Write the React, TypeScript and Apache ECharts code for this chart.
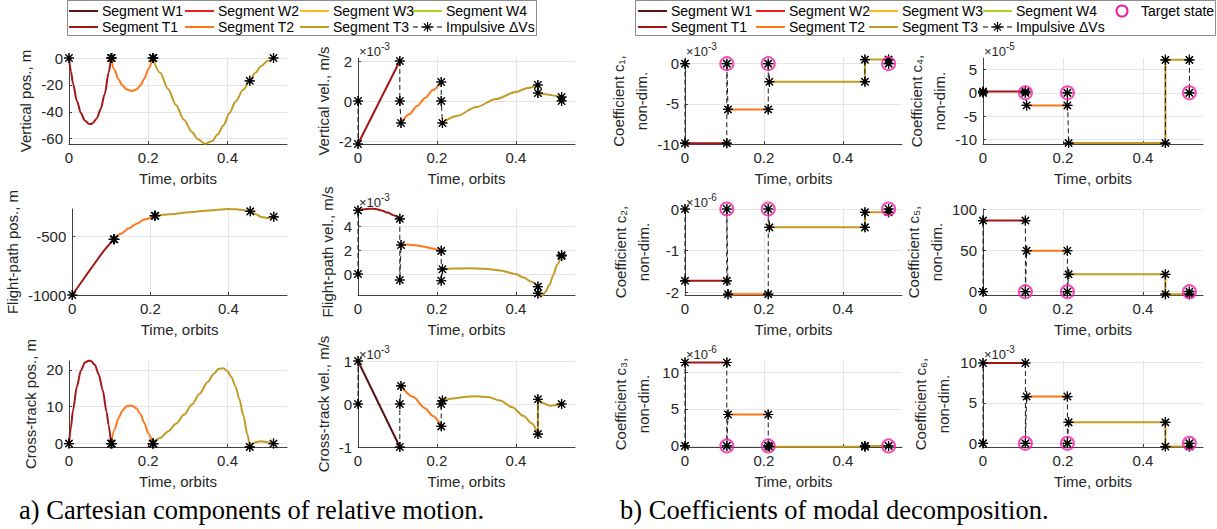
import React, { useEffect, useRef } from "react";
import * as echarts from "echarts";

// ---------------- data ----------------
const X_TICKS = [0, 0.2, 0.4];
const X_MAX = 0.55;

// Vertical position, m
const vertPosT1 = [[0, 0], [0.005, -10], [0.01, -19], [0.02, -32], [0.03, -41], [0.04, -46.5], [0.05, -49], [0.055, -49.2], [0.06, -48.5], [0.07, -45], [0.08, -38], [0.09, -27], [0.1, -11], [0.106, 0]];
const vertPosT2 = [[0.106, 0], [0.115, -9], [0.125, -16], [0.135, -20.5], [0.145, -23.2], [0.158, -24.5], [0.17, -23.5], [0.18, -20.5], [0.19, -15.5], [0.2, -8.5], [0.211, 0]];
const vertPosT3 = [[0.211, 0], [0.23, -11], [0.25, -23], [0.27, -35], [0.29, -46], [0.31, -55], [0.325, -60.5], [0.343, -63.8], [0.36, -62], [0.375, -57], [0.39, -50], [0.405, -41], [0.42, -32.5], [0.44, -23.5], [0.456, -17], [0.47, -11], [0.485, -6], [0.5, -2.3], [0.516, 0]];
const vertPosImp = [[[0, 0]], [[0.106, 0], [0.108, 0]], [[0.211, 0], [0.213, 0]], [[0.456, -17]], [[0.516, 0]]];

// Vertical velocity, 1e-3 m/s
const vertVelT1 = [[0, -2.15], [0.106, 2.0]];
const vertVelT2 = [[0.109, -1.1], [0.13, -0.66], [0.15, -0.25], [0.17, 0.15], [0.19, 0.55], [0.211, 0.95]];
const vertVelT3a = [[0.214, -1.1], [0.25, -0.75], [0.3, -0.3], [0.35, 0.1], [0.4, 0.45], [0.43, 0.65], [0.456, 0.8]];
const vertVelT3b = [[0.456, 0.4], [0.48, 0.33], [0.5, 0.26], [0.516, 0.2]];
const vertVelImp = [[[0, 0], [0, -2.15]], [[0.106, 2.0], [0.106, 0], [0.109, -1.1]], [[0.211, 0.95], [0.211, 0], [0.214, -1.1]], [[0.456, 0.8], [0.456, 0.4]], [[0.516, 0.2], [0.516, 0]]];

// Flight-path position, m
const flightPosT1 = [[0, -1000], [0.02, -907], [0.04, -813], [0.06, -720], [0.08, -628], [0.106, -528]];
const flightPosT2 = [[0.106, -528], [0.125, -480], [0.145, -435], [0.165, -395], [0.185, -360], [0.211, -328]];
const flightPosT3 = [[0.211, -328], [0.25, -315], [0.3, -298], [0.35, -283], [0.4, -272], [0.42, -274], [0.44, -281], [0.456, -291], [0.47, -315], [0.485, -338], [0.5, -347], [0.508, -344], [0.516, -337]];
const flightPosImp = [[[0, -1000]], [[0.106, -528], [0.108, -528]], [[0.211, -328], [0.213, -328]], [[0.456, -291]], [[0.516, -337]]];

// Flight-path velocity, 1e-3 m/s
const flightVelT1 = [[0, 5.3], [0.015, 5.4], [0.03, 5.45], [0.045, 5.42], [0.06, 5.3], [0.075, 5.12], [0.09, 4.9], [0.106, 4.6]];
const flightVelT2 = [[0.109, 2.42], [0.125, 2.45], [0.145, 2.4], [0.165, 2.3], [0.185, 2.15], [0.211, 1.93]];
const flightVelT3a = [[0.214, 0.4], [0.24, 0.45], [0.28, 0.48], [0.32, 0.44], [0.36, 0.3], [0.4, 0.0], [0.42, -0.3], [0.44, -0.65], [0.456, -1.05]];
const flightVelT3b = [[0.456, -1.62], [0.462, -1.72], [0.468, -1.74], [0.475, -1.5], [0.485, -0.9], [0.495, -0.1], [0.505, 0.8], [0.516, 1.57]];
const flightVelImp = [[[0, 0], [0, 5.3]], [[0.106, 4.6], [0.106, -0.5], [0.109, 2.42]], [[0.211, 1.93], [0.211, -0.56], [0.214, 0.4]], [[0.456, -1.05], [0.456, -1.62]], [[0.516, 1.57], [0.516, 1.5]]];

// Cross-track position, m
const crossPosT1 = [[0, 0], [0.005, 4.5], [0.01, 9], [0.02, 15.5], [0.03, 19.8], [0.04, 22], [0.05, 22.5], [0.055, 22.4], [0.065, 21.4], [0.075, 18.8], [0.085, 14.5], [0.095, 8.5], [0.1, 5], [0.106, 0]];
const crossPosT2 = [[0.106, 0], [0.115, 3.8], [0.125, 6.9], [0.135, 9.0], [0.145, 10.1], [0.158, 10.3], [0.17, 9.6], [0.18, 8.0], [0.19, 5.6], [0.2, 2.8], [0.211, 0]];
const crossPosT3a = [[0.211, 0], [0.23, 1.5], [0.25, 3.3], [0.27, 5.4], [0.29, 7.8], [0.31, 10.6], [0.33, 13.6], [0.35, 16.7], [0.365, 18.9], [0.378, 20.3], [0.39, 20.4], [0.4, 19.6], [0.41, 18], [0.42, 15.5], [0.43, 12], [0.44, 7.5], [0.45, 2.5], [0.456, -0.9]];
const crossPosT3b = [[0.456, -0.9], [0.465, 0.1], [0.475, 0.5], [0.485, 0.6], [0.5, 0.35], [0.516, 0]];
const crossPosImp = [[[0, 0]], [[0.106, 0], [0.108, 0]], [[0.211, 0], [0.213, 0]], [[0.456, -0.9]], [[0.516, 0]]];

// Cross-track velocity, 1e-3 m/s
const crossVelW1 = [[0, 1], [0.106, -1]];
const crossVelT2 = [[0.109, 0.42], [0.14, 0.16], [0.17, -0.1], [0.19, -0.28], [0.211, -0.52]];
const crossVelT3a = [[0.214, 0.08], [0.24, 0.13], [0.27, 0.165], [0.3, 0.18], [0.33, 0.16], [0.36, 0.08], [0.39, -0.07], [0.42, -0.28], [0.44, -0.45], [0.456, -0.7]];
const crossVelT3b = [[0.456, 0.11], [0.47, 0.02], [0.485, -0.04], [0.5, -0.03], [0.516, 0]];
const crossVelImp = [[[0, 0], [0, 1]], [[0.106, -1], [0.106, 0], [0.109, 0.42]], [[0.211, -0.52], [0.211, 0], [0.214, 0.08]], [[0.456, -0.7], [0.456, 0.11]], [[0.516, 0]]];

// Modal coefficients (steps)
const c1T1 = [[0, -9.9], [0.106, -9.9]];
const c1T2 = [[0.109, -5.7], [0.211, -5.7]];
const c1T3 = [[0.214, -2.25], [0.456, -2.25], [0.456, 0.5], [0.516, 0.5]];
const c1Imp = [[[0, 0], [0, -9.9]], [[0.106, -9.9], [0.106, 0], [0.109, -5.7]], [[0.211, -5.7], [0.211, 0], [0.214, -2.25]], [[0.456, -2.25], [0.456, 0.5]], [[0.516, 0.5], [0.516, 0]]];

const c2T1 = [[0, -1.72], [0.106, -1.72]];
const c2T2 = [[0.109, -2.04], [0.211, -2.04]];
const c2T3 = [[0.214, -0.44], [0.456, -0.44], [0.456, -0.08], [0.516, -0.08]];
const c2Imp = [[[0, 0], [0, -1.72]], [[0.106, -1.72], [0.106, 0], [0.109, -2.04]], [[0.211, -2.04], [0.211, 0], [0.214, -0.44]], [[0.456, -0.44], [0.456, -0.08]], [[0.516, -0.08], [0.516, 0]]];

const c3T1 = [[0, 11.3], [0.106, 11.3]];
const c3T2 = [[0.109, 4.25], [0.211, 4.25]];
const c3T3 = [[0.214, -0.1], [0.456, -0.1], [0.456, 0], [0.516, 0]];
const c3Imp = [[[0, 0], [0, 11.3]], [[0.106, 11.3], [0.106, 0], [0.109, 4.25]], [[0.211, 4.25], [0.211, 0], [0.214, -0.1]], [[0.456, -0.1], [0.456, 0]], [[0.516, 0]]];

const c4T1 = [[0, 0.3], [0.106, 0.3]];
const c4T2 = [[0.109, -2.7], [0.211, -2.7]];
const c4T3 = [[0.214, -10.8], [0.456, -10.8], [0.456, 7.1], [0.516, 7.1]];
const c4Imp = [[[0, 0], [0, 0.3]], [[0.106, 0.3], [0.106, 0], [0.109, -2.7]], [[0.211, -2.7], [0.211, 0], [0.214, -10.8]], [[0.456, -10.8], [0.456, 7.1]], [[0.516, 7.1], [0.516, 0]]];

const c5T1 = [[0, 86], [0.106, 86]];
const c5T2 = [[0.109, 49.5], [0.211, 49.5]];
const c5T3 = [[0.214, 21], [0.456, 21], [0.456, -3], [0.516, -3]];
const c5Imp = [[[0, 0], [0, 86]], [[0.106, 86], [0.106, 0], [0.109, 49.5]], [[0.211, 49.5], [0.211, 0], [0.214, 21]], [[0.456, 21], [0.456, -3]], [[0.516, -3], [0.516, 0]]];

const c6T1 = [[0, 9.95], [0.106, 9.95]];
const c6T2 = [[0.109, 5.8], [0.211, 5.8]];
const c6T3 = [[0.214, 2.6], [0.456, 2.6], [0.456, -0.4], [0.516, -0.4]];
const c6Imp = [[[0, 0], [0, 9.95]], [[0.106, 9.95], [0.106, 0], [0.109, 5.8]], [[0.211, 5.8], [0.211, 0], [0.214, 2.6]], [[0.456, 2.6], [0.456, -0.4]], [[0.516, -0.4], [0.516, 0]]];

const targetStates = [[0.106, 0], [0.211, 0], [0.516, 0]];

// tick labels
const ticksVertPos = [-60, -40, -20, 0];
const ticksVertVel = [-2, 0, 2];
const ticksFlightPos = [-1000, -500];
const ticksFlightVel = [0, 2, 4];
const ticksCrossPos = [0, 10, 20];
const ticksCrossVel = [-1, 0, 1];
const ticksC1 = [-10, -5, 0];
const ticksC2 = [-2, -1, 0];
const ticksC3 = [0, 5, 10];
const ticksC4 = [-10, -5, 0, 5];
const ticksC5 = [0, 50, 100];
const ticksC6 = [0, 5, 10];

// ---------------- style ----------------
const C = {
  W1: "#571414",
  W2: "#f21c1c",
  W3: "#ffbb1c",
  W4: "#b3d01c",
  T1: "#a51717",
  T2: "#ff7619",
  T3: "#c29b24",
  target: "#f01fa8",
};
const FONT = '"Liberation Sans", Arial, sans-serif';
const SERIF = '"Liberation Serif", "Times New Roman", serif';
const TXT = "#262626";
const AX = "#404040";
const GRIDC = "#e6e6e6";
const FS = 15;
const ASTER =
  "path://M0,-5L0,5M-5,0L5,0M-3.6,-3.6L3.6,3.6M-3.6,3.6L3.6,-3.6M-1.2,-1.2L1.2,-1.2L1.2,1.2L-1.2,1.2Z";

const COL_LEFT = [69, 358, 685, 983];
const COL_W = [218, 217, 217, 220];
const ROW_TOP = [58, 209, 361];
const PLOT_H = 86;

const jump = (a: number[][], b: number[][]) => [a[a.length - 1], b[0]];

type Seg = { data: number[][]; color: string; smooth?: boolean };
type PanelDef = {
  col: number;
  row: number;
  ylim: [number, number];
  yticks: number[];
  name: string;
  gap: number;
  segs: Seg[];
  imps: number[][][];
  targets?: number[][];
  exp?: string;
};

const panels: PanelDef[] = [
  {
    col: 0, row: 0, ylim: [-64, 0], yticks: ticksVertPos, name: "Vertical pos., m", gap: 31,
    segs: [
      { data: vertPosT1, color: C.T1, smooth: true },
      { data: vertPosT2, color: C.T2, smooth: true },
      { data: vertPosT3, color: C.T3, smooth: true },
    ],
    imps: vertPosImp,
  },
  {
    col: 1, row: 0, ylim: [-2.15, 2.15], yticks: ticksVertVel, name: "Vertical vel., m/s", gap: 21,
    segs: [
      { data: vertVelT1, color: C.T1 },
      { data: vertVelT2, color: C.T2, smooth: true },
      { data: vertVelT3a, color: C.T3, smooth: true },
      { data: jump(vertVelT3a, vertVelT3b), color: C.T3 },
      { data: vertVelT3b, color: C.T3, smooth: true },
    ],
    imps: vertVelImp, exp: "-3",
  },
  {
    col: 0, row: 1, ylim: [-1000, -271], yticks: ticksFlightPos, name: "Flight-path pos., m", gap: 45,
    segs: [
      { data: flightPosT1, color: C.T1 },
      { data: flightPosT2, color: C.T2, smooth: true },
      { data: flightPosT3, color: C.T3, smooth: true },
    ],
    imps: flightPosImp,
  },
  {
    col: 1, row: 1, ylim: [-1.75, 5.42], yticks: ticksFlightVel, name: "Flight-path vel., m/s", gap: 19,
    segs: [
      { data: flightVelT1, color: C.T1, smooth: true },
      { data: flightVelT2, color: C.T2, smooth: true },
      { data: flightVelT3a, color: C.T3, smooth: true },
      { data: jump(flightVelT3a, flightVelT3b), color: C.T3 },
      { data: flightVelT3b, color: C.T3, smooth: true },
    ],
    imps: flightVelImp, exp: "-3",
  },
  {
    col: 0, row: 2, ylim: [-0.93, 22.4], yticks: ticksCrossPos, name: "Cross-track pos., m", gap: 25,
    segs: [
      { data: crossPosT1, color: C.T1, smooth: true },
      { data: crossPosT2, color: C.T2, smooth: true },
      { data: crossPosT3a, color: C.T3, smooth: true },
      { data: crossPosT3b, color: C.T3, smooth: true },
    ],
    imps: crossPosImp,
  },
  {
    col: 1, row: 2, ylim: [-1, 1], yticks: ticksCrossVel, name: "Cross-track vel., m/s", gap: 21,
    segs: [
      { data: crossVelW1, color: C.W1 },
      { data: crossVelT2, color: C.T2, smooth: true },
      { data: crossVelT3a, color: C.T3, smooth: true },
      { data: jump(crossVelT3a, crossVelT3b), color: C.T3 },
      { data: crossVelT3b, color: C.T3, smooth: true },
    ],
    imps: crossVelImp, exp: "-3",
  },
  {
    col: 2, row: 0, ylim: [-10, 0.7], yticks: ticksC1, name: "Coefficient c\u2081,\nnon-dim.", gap: 30,
    segs: [{ data: c1T1, color: C.T1 }, { data: c1T2, color: C.T2 }, { data: c1T3, color: C.T3 }],
    imps: c1Imp, targets: targetStates, exp: "-3",
  },
  {
    col: 3, row: 0, ylim: [-11, 7.5], yticks: ticksC4, name: "Coefficient c\u2084,\nnon-dim.", gap: 28,
    segs: [{ data: c4T1, color: C.T1 }, { data: c4T2, color: C.T2 }, { data: c4T3, color: C.T3 }],
    imps: c4Imp, targets: targetStates, exp: "-5",
  },
  {
    col: 2, row: 1, ylim: [-2.06, 0], yticks: ticksC2, name: "Coefficient c\u2082,\nnon-dim.", gap: 30,
    segs: [{ data: c2T1, color: C.T1 }, { data: c2T2, color: C.T2 }, { data: c2T3, color: C.T3 }],
    imps: c2Imp, targets: targetStates, exp: "-6",
  },
  {
    col: 3, row: 1, ylim: [-4, 100], yticks: ticksC5, name: "Coefficient c\u2085,\nnon-dim.", gap: 28,
    segs: [{ data: c5T1, color: C.T1 }, { data: c5T2, color: C.T2 }, { data: c5T3, color: C.T3 }],
    imps: c5Imp, targets: targetStates,
  },
  {
    col: 2, row: 2, ylim: [-0.15, 11.5], yticks: ticksC3, name: "Coefficient c\u2083,\nnon-dim.", gap: 30,
    segs: [{ data: c3T1, color: C.T1 }, { data: c3T2, color: C.T2 }, { data: c3T3, color: C.T3 }],
    imps: c3Imp, targets: targetStates, exp: "-6",
  },
  {
    col: 3, row: 2, ylim: [-0.45, 10.2], yticks: ticksC6, name: "Coefficient c\u2086,\nnon-dim.", gap: 28,
    segs: [{ data: c6T1, color: C.T1 }, { data: c6T2, color: C.T2 }, { data: c6T3, color: C.T3 }],
    imps: c6Imp, targets: targetStates, exp: "-3",
  },
];

const fmt = (v: number) => String(Math.round(v * 1e6) / 1e6);

function asteriskLines(cx: number, cy: number, r: number) {
  const d = r * 0.72;
  const segs = [
    [0, -r, 0, r],
    [-r, 0, r, 0],
    [-d, -d, d, d],
    [-d, d, d, -d],
  ];
  return segs.map((s) => ({
    type: "line",
    shape: { x1: cx + s[0], y1: cy + s[1], x2: cx + s[2], y2: cy + s[3] },
    style: { stroke: "#000", lineWidth: 1.2 },
    silent: true,
  }));
}

function legendEls(
  box: { x: number; y: number; w: number; h: number },
  items: { label: string; color?: string; x: number; y: number; kind: "line" | "imp" | "target" }[]
) {
  const els: any[] = [
    {
      type: "rect",
      shape: { x: box.x, y: box.y, width: box.w, height: box.h },
      style: { fill: "#fff", stroke: "#8c8c8c", lineWidth: 1 },
      silent: true,
    },
  ];
  const L = 29;
  items.forEach((it) => {
    if (it.kind === "line") {
      els.push({
        type: "line",
        shape: { x1: it.x, y1: it.y, x2: it.x + L, y2: it.y },
        style: { stroke: it.color, lineWidth: 2 },
        silent: true,
      });
    } else if (it.kind === "imp") {
      els.push({
        type: "line",
        shape: { x1: it.x, y1: it.y, x2: it.x + L, y2: it.y },
        style: { stroke: "#000", lineWidth: 1, lineDash: [5, 3] },
        silent: true,
      });
      els.push(...asteriskLines(it.x + L / 2, it.y, 5));
    } else {
      els.push({
        type: "circle",
        shape: { cx: it.x + 16, cy: it.y, r: 5.5 },
        style: { fill: "none", stroke: C.target, lineWidth: 2 },
        silent: true,
      });
    }
    els.push({
      type: "text",
      x: it.kind === "target" ? it.x + 35 : it.x + L + 4,
      y: it.y,
      style: {
        text: it.label,
        font: `14px ${FONT}`,
        fill: "#000",
        textVerticalAlign: "middle",
      },
      silent: true,
    });
  });
  return els;
}

function buildOption() {
  const grid: any[] = [];
  const xAxis: any[] = [];
  const yAxis: any[] = [];
  const series: any[] = [];
  const graphics: any[] = [];

  panels.forEach((p, i) => {
    const left = COL_LEFT[p.col];
    const top = ROW_TOP[p.row];
    grid.push({ left, top, width: COL_W[p.col], height: PLOT_H, containLabel: false });
    xAxis.push({
      type: "value",
      gridIndex: i,
      min: 0,
      max: X_MAX,
      name: "Time, orbits",
      nameLocation: "middle",
      nameGap: 27,
      nameTextStyle: { fontSize: FS, color: TXT, fontFamily: FONT },
      axisLine: { show: true, onZero: false, lineStyle: { color: AX, width: 1 } },
      axisTick: { show: true, inside: true, length: 3, customValues: X_TICKS, lineStyle: { color: AX } },
      axisLabel: { customValues: X_TICKS, fontSize: FS, color: TXT, fontFamily: FONT, margin: 6, formatter: fmt },
      splitLine: { show: true, lineStyle: { color: GRIDC, width: 1 } },
    });
    yAxis.push({
      type: "value",
      gridIndex: i,
      min: p.ylim[0],
      max: p.ylim[1],
      name: p.name,
      nameLocation: "middle",
      nameRotate: 90,
      nameGap: p.gap,
      nameTextStyle: { fontSize: FS, color: TXT, fontFamily: FONT, lineHeight: 23 },
      axisLine: { show: true, onZero: false, lineStyle: { color: AX, width: 1 } },
      axisTick: { show: true, inside: true, length: 3, customValues: p.yticks, lineStyle: { color: AX } },
      axisLabel: { customValues: p.yticks, fontSize: FS, color: TXT, fontFamily: FONT, margin: 6, formatter: fmt },
      splitLine: { show: true, lineStyle: { color: GRIDC, width: 1 } },
    });

    p.imps.forEach((g) => {
      series.push({
        type: "line",
        xAxisIndex: i,
        yAxisIndex: i,
        data: g,
        symbol: ASTER,
        symbolSize: 10,
        showSymbol: true,
        lineStyle: { color: "#1a1a1a", width: 1, type: [5, 3] },
        itemStyle: { color: "#000", borderColor: "#000", borderWidth: 1.2 },
        clip: false,
        silent: true,
        z: 3,
      });
    });
    p.segs.forEach((s) => {
      series.push({
        type: "line",
        xAxisIndex: i,
        yAxisIndex: i,
        data: s.data,
        symbol: "none",
        showSymbol: false,
        smooth: s.smooth ? 0.3 : false,
        smoothMonotone: "x",
        lineStyle: { color: s.color, width: 2 },
        clip: false,
        silent: true,
        z: 2,
      });
    });
    // markers on top of the segment lines
    p.imps.forEach((g) => {
      series.push({
        type: "scatter",
        xAxisIndex: i,
        yAxisIndex: i,
        data: g,
        symbol: ASTER,
        symbolSize: 10,
        itemStyle: { color: "#000", borderColor: "#000", borderWidth: 1.2 },
        clip: false,
        silent: true,
        z: 4,
      });
    });
    if (p.targets) {
      series.push({
        type: "scatter",
        xAxisIndex: i,
        yAxisIndex: i,
        data: p.targets,
        symbol: "circle",
        symbolSize: 13,
        itemStyle: { color: "rgba(0,0,0,0)", borderColor: C.target, borderWidth: 2 },
        clip: false,
        silent: true,
        z: 5,
      });
    }
    if (p.exp) {
      graphics.push({
        type: "text",
        x: left + 1,
        y: top - 7,
        style: { text: "\u00d710", font: `13px ${FONT}`, fill: TXT, textVerticalAlign: "middle" },
        silent: true,
      });
      graphics.push({
        type: "text",
        x: left + 23,
        y: top - 12,
        style: { text: p.exp, font: `10px ${FONT}`, fill: TXT, textVerticalAlign: "middle" },
        silent: true,
      });
    }
  });

  graphics.push(
    ...legendEls({ x: 67.5, y: 0.5, w: 469, h: 35 }, [
      { label: "Segment W1", color: C.W1, x: 69, y: 11, kind: "line" },
      { label: "Segment W2", color: C.W2, x: 185, y: 11, kind: "line" },
      { label: "Segment W3", color: C.W3, x: 300, y: 11, kind: "line" },
      { label: "Segment W4", color: C.W4, x: 413, y: 11, kind: "line" },
      { label: "Segment T1", color: C.T1, x: 69, y: 27, kind: "line" },
      { label: "Segment T2", color: C.T2, x: 185, y: 27, kind: "line" },
      { label: "Segment T3", color: C.T3, x: 300, y: 27, kind: "line" },
      { label: "Impulsive \u0394Vs", x: 413, y: 27, kind: "imp" },
    ])
  );
  graphics.push(
    ...legendEls({ x: 635.5, y: 0.5, w: 580, h: 35 }, [
      { label: "Segment W1", color: C.W1, x: 638, y: 11, kind: "line" },
      { label: "Segment W2", color: C.W2, x: 756, y: 11, kind: "line" },
      { label: "Segment W3", color: C.W3, x: 869, y: 11, kind: "line" },
      { label: "Segment W4", color: C.W4, x: 983, y: 11, kind: "line" },
      { label: "Target state", x: 1106, y: 11, kind: "target" },
      { label: "Segment T1", color: C.T1, x: 638, y: 27, kind: "line" },
      { label: "Segment T2", color: C.T2, x: 756, y: 27, kind: "line" },
      { label: "Segment T3", color: C.T3, x: 869, y: 27, kind: "line" },
      { label: "Impulsive \u0394Vs", x: 983, y: 27, kind: "imp" },
    ])
  );
  graphics.push({
    type: "text",
    x: 19,
    y: 510,
    style: { text: "a) Cartesian components of relative motion.", font: `26.5px ${SERIF}`, fill: "#000", textVerticalAlign: "middle" },
    silent: true,
  });
  graphics.push({
    type: "text",
    x: 620,
    y: 510,
    style: { text: "b) Coefficients of modal decomposition.", font: `26.5px ${SERIF}`, fill: "#000", textVerticalAlign: "middle" },
    silent: true,
  });

  return {
    animation: false,
    backgroundColor: "#ffffff",
    grid,
    xAxis,
    yAxis,
    series,
    graphic: { elements: graphics },
  };
}

export default function App() {
  const ref = useRef<HTMLDivElement>(null);
  useEffect(() => {
    if (!ref.current) return;
    const chart = echarts.init(ref.current, undefined, { renderer: "svg" });
    chart.setOption(buildOption() as any);
    return () => chart.dispose();
  }, []);
  return (
    <div
      ref={ref}
      style={{ position: "absolute", left: 0, top: 0, width: 1217, height: 529, background: "#fff" }}
    />
  );
}
